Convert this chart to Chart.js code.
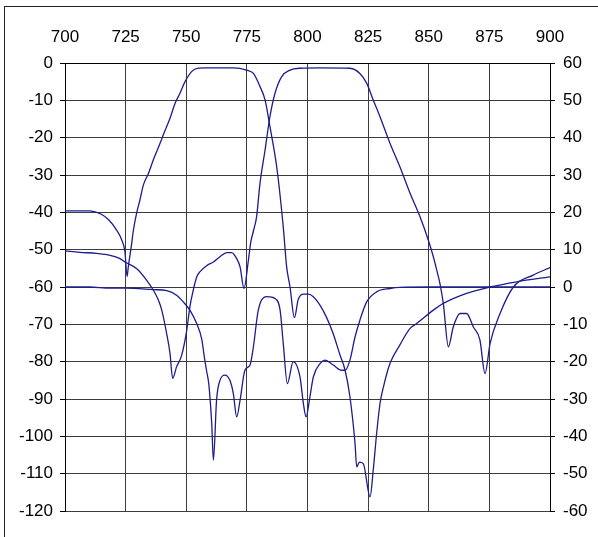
<!DOCTYPE html>
<html>
<head>
<meta charset="utf-8">
<script src="https://cdn.jsdelivr.net/npm/chart.js@4.4.1/dist/chart.umd.min.js"></script>
<style>
  html, body { margin: 0; padding: 0; background: #fff; }
  #wrap { position: relative; width: 598px; height: 537px; overflow: hidden; }
  #frame { position: absolute; left: 4px; top: 6px; width: 620px; height: 560px; border: 1.5px solid #222; }
  canvas { position: absolute; left: 0; top: 0; }
</style>
</head>
<body>
<div id="wrap">
  <div id="frame"></div>
  <canvas id="filterChart" width="598" height="537"></canvas>
</div>
<script>
// frequency axis (MHz) and dB axes
const freqTicks = [700, 725, 750, 775, 800, 825, 850, 875, 900];
const leftTicks = [0, -10, -20, -30, -40, -50, -60, -70, -80, -90, -100, -110, -120];
const rightTicks = [60, 50, 40, 30, 20, 10, 0, -10, -20, -30, -40, -50, -60];

// low band filter, left axis
const txFreq = [700, 705, 710, 712, 715, 718, 721, 723.4, 724.7, 725.6, 726.1, 727.5, 728.2, 729.6, 730.9,
  732.3, 734.4, 736.4, 739.2, 740.5, 743.3, 745.4, 747.4, 749.5, 752.2, 755, 758.4, 764, 769.4, 774.9,
  777.7, 780.4, 782.5, 784.5, 787.3, 790, 791.4, 792.8, 794.6, 796.2, 798.3, 800.4, 802.4, 805.2, 807.9,
  810.6, 813.4, 815.5, 817.5, 819.6, 820.3, 821.4, 823, 825.8, 827.1, 828.5, 829.9, 831.3, 834, 838.1,
  842.3, 845, 851.9, 856, 865.6, 875.3, 886.3, 900];
const txLoss = [-39.6, -39.6, -39.6, -39.8, -40.5, -42, -44.5, -47.4, -50.5, -57.2, -54.6, -48.3, -44.8, -40, -36.7,
  -32.7, -29.6, -26, -21.5, -19.3, -14.8, -10.8, -8.1, -5, -2.3, -1.4, -1.3, -1.3, -1.3, -1.9,
  -2.8, -6.3, -9.9, -17, -27.8, -43.9, -54.6, -60, -68.2, -63.3, -61.9, -61.9, -62.6, -64.9, -68.2,
  -72.5, -78.2, -82.3, -89.4, -101.9, -108.2, -106.9, -107.3, -116.2, -109.1, -99.3, -91.2, -86.8, -80.5, -75.5,
  -71.1, -69.8, -66.2, -64.4, -61.7, -60, -58.6, -57.3];

// high band filter, left axis
const rxFreq = [700, 706.2, 713, 718.6, 722.7, 724.7, 729.6, 733.7, 736.4, 738.5, 739.9, 741.9, 743.3, 744.4,
  746, 748.1, 750.2, 751.5, 752.9, 754.3, 755.7, 758.4, 761.2, 763.9, 766.7, 768.7, 770.8, 772.2, 773.8,
  775.6, 776.6, 777.7, 779, 780.4, 782.5, 784.5, 786.6, 789.3, 792.8, 796.9, 805, 817.5, 821.6, 824.4,
  827.1, 829.9, 834, 838.1, 842.3, 846.4, 849.8, 851.9, 853.3, 854.6, 856, 858.1, 860.1, 862.9, 865.6,
  868.4, 871.1, 873.2, 875.3, 879.4, 884.9, 893.1, 900];
const rxLoss = [-50.3, -50.7, -51, -51.5, -52.4, -53.3, -55.1, -58.2, -60.8, -63.5, -66.2, -72.4, -77.8, -84.5,
  -81.4, -78.3, -71.6, -65.3, -60.8, -57.3, -55.9, -54.3, -53.3, -51.9, -50.8, -50.8, -52.4, -54.6, -60.4,
  -53, -48, -45, -41.2, -32.3, -23.3, -14.4, -8.1, -3.7, -1.9, -1.4, -1.3, -1.4, -2.8, -5.4,
  -9.9, -14.4, -21.5, -27.8, -34.9, -41.2, -47.4, -51.9, -55.5, -59, -64.4, -76, -70.7, -67.1, -67.1,
  -70.7, -74.2, -83.2, -75.1, -67.1, -60, -56.8, -54.8];

// isolation, right axis
const isoFreq = [700, 710, 718.6, 725, 736.4, 742, 746, 748.8, 751.5, 754.3, 756.4, 757.4, 758.4, 759.3, 760.5,
  761.2, 762.5, 763.9, 766, 768, 769.4, 770.8, 772.2, 774.2, 776.3, 777.7, 779.7, 783.2, 786.6, 788.7,
  790, 791.7, 794.1, 796.9, 798.3, 799.4, 801, 802.4, 805.2, 807.2, 810.6, 814.1, 815.5, 817.5, 819.6,
  821.6, 824.4, 828.5, 834, 838.1, 850, 900];
const isoLoss = [0, 0, -0.3, -0.3, -0.7, -1, -2.2, -4, -6.2, -9.8, -14, -18.5, -22.5, -26, -36.6,
  -46.4, -30.3, -25, -23.6, -25, -28.5, -34.8, -30.3, -22.3, -20.9, -16, -6.2, -2.6, -3.1, -6.2,
  -15.1, -25.9, -20, -24.1, -31.2, -34.8, -29.4, -24.1, -20.5, -19.6, -20.9, -22.3, -22.3, -19.6, -13.4,
  -8.9, -4, -1.3, -0.4, -0.1, 0, 0];

function toPoints(xs, ys) {
  return xs.map((x, i) => ({ x: x, y: ys[i] }));
}

const lineColor = '#1c1c8e';
const gridColor = '#3c3c3c';
const tickFont = { family: 'Liberation Sans', size: 17 };

function series(xs, ys, axis) {
  return {
    data: toPoints(xs, ys),
    yAxisID: axis,
    borderColor: lineColor,
    borderWidth: 1.3,
    pointRadius: 0,
    fill: false,
    cubicInterpolationMode: 'monotone'
  };
}

const ctx = document.getElementById('filterChart');

const filterChart = new Chart(ctx, {
  type: 'line',
  data: {
    datasets: [
      series(txFreq, txLoss, 'y'),
      series(rxFreq, rxLoss, 'y'),
      series(isoFreq, isoLoss, 'y2')
    ]
  },
  options: {
    responsive: false,
    animation: false,
    layout: { padding: { top: 0, left: 0, right: 0, bottom: 26 } },
    plugins: { legend: { display: false }, tooltip: { enabled: false } },
    scales: {
      x: {
        type: 'linear',
        position: 'top',
        min: 700,
        max: 900,
        afterBuildTicks: s => { s.ticks = freqTicks.map(v => ({ value: v })); },
        afterFit: s => { s.height = 63; },
        ticks: { color: '#000', font: tickFont, padding: 15, maxRotation: 0 },
        grid: { color: gridColor, lineWidth: 1, drawTicks: false },
        border: { color: '#000', width: 1 }
      },
      y: {
        position: 'left',
        min: -120,
        max: 0,
        afterBuildTicks: s => { s.ticks = leftTicks.map(v => ({ value: v })); },
        afterFit: s => { s.width = 65; },
        ticks: { color: '#000', font: tickFont, padding: 7 },
        grid: { color: gridColor, lineWidth: 1, tickLength: 5, tickColor: '#000' },
        border: { color: '#000', width: 1 }
      },
      y2: {
        position: 'right',
        min: -60,
        max: 60,
        afterBuildTicks: s => { s.ticks = rightTicks.map(v => ({ value: v })); },
        afterFit: s => { s.width = 48; },
        ticks: { color: '#000', font: tickFont, padding: 8 },
        grid: { drawOnChartArea: false, tickLength: 5, color: '#000' },
        border: { color: '#000', width: 1 }
      }
    }
  }
});
</script>
</body>
</html>
